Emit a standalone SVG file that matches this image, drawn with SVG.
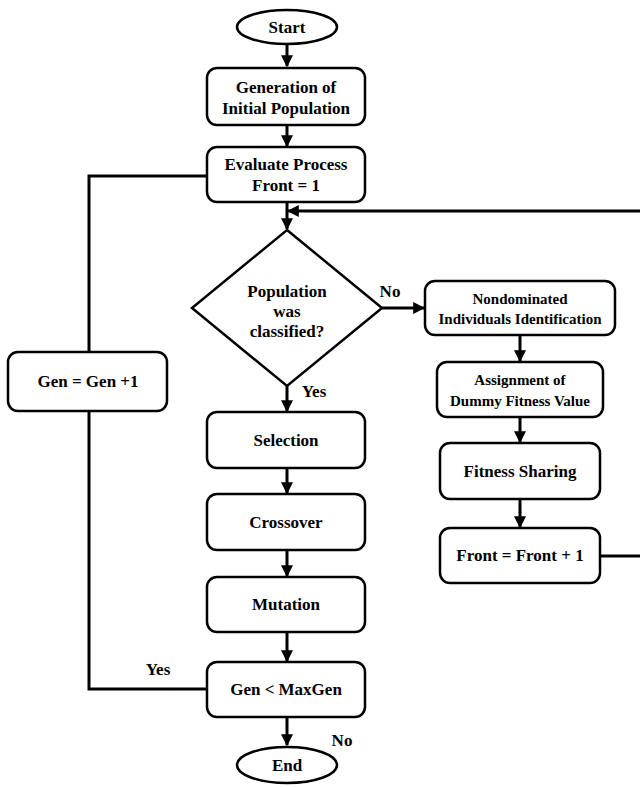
<svg xmlns="http://www.w3.org/2000/svg" width="640" height="787" viewBox="0 0 640 787">
<style>
.n{fill:#fff;stroke:#000;stroke-width:2.5}
.t{font-family:'Liberation Serif','Times New Roman',Times,'DejaVu Serif',serif;font-weight:700;font-size:17px;fill:#000;text-anchor:middle}
.s{font-size:15px}
.c{fill:none;stroke:#000;stroke-width:3}
</style>
<defs>
<marker id="a" viewBox="0 0 10 10" refX="9" refY="5" markerWidth="4" markerHeight="4" markerUnits="strokeWidth" orient="auto">
<path d="M0,0 L10,5 L0,10 z" fill="#000"/>
</marker>
</defs>
<rect width="640" height="787" fill="#fff"/>
<g id="connectors">
<line class="c" x1="287" y1="44" x2="287" y2="66" marker-end="url(#a)"/>
<line class="c" x1="287" y1="125" x2="287" y2="146" marker-end="url(#a)"/>
<line class="c" x1="287" y1="202" x2="287" y2="229" marker-end="url(#a)"/>
<polyline class="c" points="600,556 643,556 643,211 288,211" marker-end="url(#a)"/>
<line class="c" x1="382" y1="308" x2="424" y2="308" marker-end="url(#a)"/>
<line class="c" x1="520" y1="335" x2="520" y2="361" marker-end="url(#a)"/>
<line class="c" x1="520" y1="417" x2="520" y2="442" marker-end="url(#a)"/>
<line class="c" x1="520" y1="499" x2="520" y2="527" marker-end="url(#a)"/>
<line class="c" x1="287" y1="386" x2="287" y2="411" marker-end="url(#a)"/>
<line class="c" x1="287" y1="468" x2="287" y2="493" marker-end="url(#a)"/>
<line class="c" x1="287" y1="550" x2="287" y2="576" marker-end="url(#a)"/>
<line class="c" x1="287" y1="632" x2="287" y2="661" marker-end="url(#a)"/>
<line class="c" x1="287" y1="717" x2="287" y2="745" marker-end="url(#a)"/>
<polyline class="c" points="207,689 89,689 89,411"/>
<polyline class="c" points="89,352 89,176 207,176"/>
<text class="t" x="390" y="297">No</text>
<text class="t" x="314" y="397">Yes</text>
<text class="t" x="158" y="675">Yes</text>
<text class="t" x="342" y="746">No</text>
</g>
<g id="start"><ellipse class="n" cx="287" cy="27" rx="50" ry="17"/><text class="t" x="287" y="33">Start</text></g>
<g id="generation"><rect class="n" x="207" y="68" width="158" height="57" rx="10"/><text class="t" x="286" y="93">Generation of</text><text class="t" x="286" y="114">Initial Population</text></g>
<g id="evaluate"><rect class="n" x="207" y="147" width="158" height="55" rx="10"/><text class="t" x="286" y="170">Evaluate Process</text><text class="t" x="286" y="191">Front = 1</text></g>
<g id="decision"><polygon class="n" points="287,230 382,308 287,386 192,308"/><text class="t" x="287" y="297">Population</text><text class="t" x="287" y="317">was</text><text class="t" x="287" y="337">classified?</text></g>
<g id="nondominated"><rect class="n" x="425" y="281" width="190" height="54" rx="10"/><text class="t s" x="520" y="304">Nondominated</text><text class="t s" x="520" y="324">Individuals Identification</text></g>
<g id="assignment"><rect class="n" x="437" y="362" width="166" height="55" rx="10"/><text class="t s" x="520" y="385">Assignment of</text><text class="t s" x="520" y="406">Dummy Fitness Value</text></g>
<g id="sharing"><rect class="n" x="440" y="443" width="160" height="56" rx="10"/><text class="t" x="520" y="477">Fitness Sharing</text></g>
<g id="frontinc"><rect class="n" x="440" y="528" width="160" height="55" rx="10"/><text class="t" x="520" y="561">Front = Front + 1</text></g>
<g id="geninc"><rect class="n" x="8" y="352" width="159" height="59" rx="10"/><text class="t" x="88" y="387">Gen = Gen +1</text></g>
<g id="selection"><rect class="n" x="207" y="412" width="158" height="56" rx="10"/><text class="t" x="286" y="446">Selection</text></g>
<g id="crossover"><rect class="n" x="207" y="494" width="158" height="56" rx="10"/><text class="t" x="286" y="528">Crossover</text></g>
<g id="mutation"><rect class="n" x="207" y="577" width="158" height="55" rx="10"/><text class="t" x="286" y="610">Mutation</text></g>
<g id="gencheck"><rect class="n" x="207" y="662" width="158" height="55" rx="10"/><text class="t" x="286" y="695">Gen &lt; MaxGen</text></g>
<g id="end"><ellipse class="n" cx="287" cy="765" rx="50" ry="18"/><text class="t" x="287" y="771">End</text></g>
</svg>
